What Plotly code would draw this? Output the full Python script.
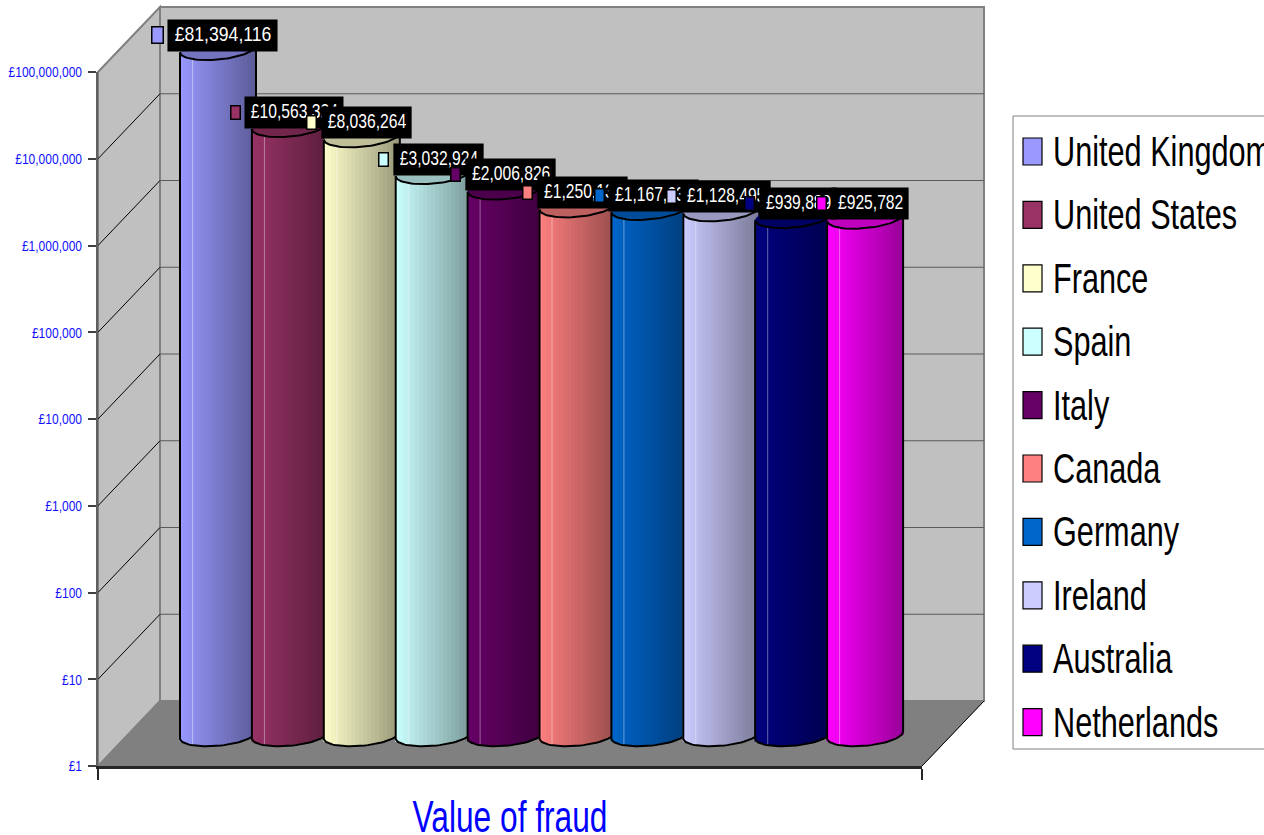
import json
import math
import plotly.graph_objects as go

# Card-fraud value by country, drawn as pseudo-3D cylinders on a log scale
countries = ["United Kingdom", "United States", "France", "Spain", "Italy",
             "Canada", "Germany", "Ireland", "Australia", "Netherlands"]
fraud_value = [81394116, 10563324, 8036264, 3032924, 2006826,
               1250133, 1167633, 1128495, 939889, 925782]
colours = ["#9999FF", "#993366", "#FFFFCC", "#CCFFFF", "#660066",
           "#FF8080", "#0066CC", "#CCCCFF", "#000080", "#FF00FF"]
tick_values = [1, 10, 100, 1000, 10000, 100000, 1000000, 10000000, 100000000]
tick_labels = ["£1", "£10", "£100", "£1,000", "£10,000", "£100,000",
               "£1,000,000", "£10,000,000", "£100,000,000"]
axis_title = "Value of fraud"

W, H = 1264, 835
FONT = "Liberation Sans, Arial, sans-serif"

# Projection of the chart box, in page pixels
DECADE = 86.75
FRONT_L, FRONT_R, FRONT_BOTTOM = 98, 922, 766
DEPTH_X, DEPTH_Y = 62, 65
BAR_BASE = 735
FIRST_CENTRE, STEP = 218, 71.9
CYL_A, CYL_B, CYL_TILT = 38, 10.8, 0.09
SLICES = 19


def fx(px):
    return px / W


def fy(py):
    return 1 - py / H


def path(points):
    return "M " + " L ".join(f"{fx(x):.5f},{fy(y):.5f}" for x, y in points) + " Z"


def shade(hex_colour, factor):
    rgb = [int(hex_colour[i:i + 2], 16) for i in (1, 3, 5)]
    return "rgb({:.0f},{:.0f},{:.0f})".format(*[c * factor for c in rgb])


def up(pixels):
    """Multiplier on a log axis equivalent to moving up by some pixels."""
    return 10 ** (pixels / DECADE)


def below_centre(dx):
    return CYL_B * math.sqrt(max(0.0, 1 - (dx / CYL_A) ** 2)) - CYL_TILT * dx


def arc(centre, value, start, stop, n=40):
    xs, ys = [], []
    for k in range(n + 1):
        a = math.radians(start + (stop - start) * k / n)
        dx = CYL_A * math.cos(a)
        xs.append(centre + dx / STEP)
        ys.append(value * up(CYL_B * math.sin(a) + CYL_TILT * dx))
    return xs, ys


x_low = (FRONT_L - FIRST_CENTRE) / STEP
x_high = (FRONT_R - FIRST_CENTRE) / STEP
cyl_domain = [fy(FRONT_BOTTOM), 1.0]
cyl_range = [(BAR_BASE - FRONT_BOTTOM) / DECADE, BAR_BASE / DECADE]

shapes = []
back_top = FRONT_BOTTOM - DEPTH_Y - 8 * DECADE
back_bottom = FRONT_BOTTOM - DEPTH_Y
back_l, back_r = FRONT_L + DEPTH_X, FRONT_R + DEPTH_X
wall_edge = "#808080"

# Back wall, side wall and floor
shapes.append(dict(type="path", xref="paper", yref="paper", layer="below",
                   path=path([(back_l, back_top), (back_r, back_top), (back_r, back_bottom), (back_l, back_bottom)]),
                   fillcolor="#C0C0C0", line=dict(color=wall_edge, width=2)))
shapes.append(dict(type="path", xref="paper", yref="paper", layer="below",
                   path=path([(FRONT_L, FRONT_BOTTOM - 8 * DECADE), (back_l, back_top),
                              (back_l, back_bottom), (FRONT_L, FRONT_BOTTOM)]),
                   fillcolor="#C0C0C0", line=dict(color=wall_edge, width=2)))
shapes.append(dict(type="path", xref="paper", yref="paper", layer="below",
                   path=path([(FRONT_L, FRONT_BOTTOM), (back_l, back_bottom), (back_r, back_bottom), (FRONT_R, FRONT_BOTTOM)]),
                   fillcolor="#808080", line=dict(color="#808080", width=1)))
shapes.append(dict(type="line", xref="paper", yref="paper", layer="below",
                   x0=fx(FRONT_R), y0=fy(FRONT_BOTTOM), x1=fx(back_r), y1=fy(back_bottom),
                   line=dict(color="#000000", width=1)))

# Grid lines running along the side wall and across the back wall
for k in range(1, 8):
    front_y = FRONT_BOTTOM - k * DECADE
    wall_y = front_y - DEPTH_Y
    shapes.append(dict(type="line", xref="paper", yref="paper", layer="below",
                       x0=fx(FRONT_L), y0=fy(front_y), x1=fx(back_l), y1=fy(wall_y),
                       line=dict(color="#000000", width=1)))
    shapes.append(dict(type="line", xref="paper", yref="paper", layer="below",
                       x0=fx(back_l), y0=fy(wall_y), x1=fx(back_r), y1=fy(wall_y),
                       line=dict(color="#5A5A5A", width=1)))

fig = go.Figure()

# Empty trace so the visible axes own a subplot
fig.add_trace(go.Scatter(x=[None], y=[None], xaxis="x", yaxis="y", showlegend=False, hoverinfo="skip"))

annotations = []
layout_axes = {}
text_tweaks = {}   # per-text condensing and placement, since no narrow face is installed

for i, (name, value, colour) in enumerate(zip(countries, fraud_value, colours)):
    axis_id = f"y{i + 2}"
    layout_axes[f"yaxis{i + 2}"] = dict(type="log", domain=cyl_domain, range=cyl_range, anchor="x",
                                        visible=False, fixedrange=True)
    centre = float(i)

    # Vertical slices give the cylinder its left-to-right shading
    xs, bases, heights, fills = [], [], [], []
    for s in range(SLICES):
        t = (s + 0.5) / SLICES
        dx = (t - 0.5) * 2 * CYL_A
        base = 10 ** (-below_centre(dx) / DECADE)
        top = value * up(CYL_TILT * dx)
        xs.append(centre + dx / STEP)
        bases.append(base)
        heights.append(top - base)
        fills.append(shade(colour, 1.0 - 0.4 * t))
    fig.add_trace(go.Bar(x=xs, y=heights, base=bases, width=(2 * CYL_A / SLICES + 1.2) / STEP,
                         marker=dict(color=fills, line=dict(width=0)),
                         xaxis="x", yaxis=axis_id, name=name, showlegend=False, hoverinfo="skip"))

    # Thin highlight down the body of the cylinder
    hl_dx = -25.5
    fig.add_trace(go.Scatter(x=[centre + hl_dx / STEP] * 2,
                             y=[10 ** (-below_centre(hl_dx) / DECADE), value * up(CYL_TILT * hl_dx)],
                             mode="lines", line=dict(color="rgba(255,255,255,0.4)", width=1),
                             xaxis="x", yaxis=axis_id, showlegend=False, hoverinfo="skip", cliponaxis=False))

    # Dark opening on top of the cylinder
    ex, ey = arc(centre, value, 0, 360)
    fig.add_trace(go.Scatter(x=ex, y=ey, mode="lines", fill="toself", fillcolor=shade(colour, 0.75),
                             line=dict(width=0), xaxis="x", yaxis=axis_id, showlegend=False,
                             hoverinfo="skip", cliponaxis=False))

    # Outline: rim, one side, base arc, other side
    tx, ty = arc(centre, value, 180, 360)
    bx, by = arc(centre, 1, 360, 180)
    fig.add_trace(go.Scatter(x=tx + bx + tx[:1], y=ty + by + ty[:1], mode="lines",
                             line=dict(color="#000000", width=2),
                             xaxis="x", yaxis=axis_id, showlegend=False, hoverinfo="skip", cliponaxis=False))

# Value labels come after all cylinders; each key sits on top of the previous label
LABEL_SIZE = 21
for i, (value, colour) in enumerate(zip(fraud_value, colours)):
    text = f"£{value:,}"
    digits = sum(c != "," for c in text)
    scale = 0.84 if i == 0 else 0.745
    text_w = (digits * 0.556 + text.count(",") * 0.278) * scale * LABEL_SIZE
    box_w = text_w + 12
    text_tweaks[text] = dict(scale=scale, plate=box_w, lift=2)
    log_v = math.log10(value)
    key_w, key_h = (10, 15) if i == 0 else (8, 12)
    annotations.append(dict(xref="x", yref=f"y{i + 2}", x=float(i), y=log_v, text=text, showarrow=False,
                            xshift=5, yshift=13.5, width=box_w + 40, height=29, bgcolor="rgba(0,0,0,0)",
                            font=dict(family=FONT, size=LABEL_SIZE, color="#FFFFFF")))
    annotations.append(dict(xref="x", yref=f"y{i + 2}", x=float(i), y=log_v, text=" ", showarrow=False,
                            xshift=5 - box_w / 2 - 10, yshift=13.5, width=key_w, height=key_h, bgcolor=colour,
                            bordercolor="#000000", borderwidth=1.5, borderpad=0,
                            font=dict(size=1)))

# Legend panel, clipped by the right edge of the page
LEG_L, LEG_T, LEG_B = 1013, 116, 749
shapes.append(dict(type="rect", xref="paper", yref="paper", layer="above",
                   x0=fx(LEG_L), x1=fx(W + 10), y0=fy(LEG_T), y1=fy(LEG_B),
                   fillcolor="#FFFFFF", line=dict(color="#808080", width=1)))
for i, (name, colour) in enumerate(zip(countries, colours)):
    row_y = 151.5 + i * 63.4
    shapes.append(dict(type="rect", xref="paper", yref="paper", layer="above",
                       x0=fx(1023), x1=fx(1042), y0=fy(row_y - 13.5), y1=fy(row_y + 13.5),
                       fillcolor=colour, line=dict(color="#000000", width=1.2)))
    annotations.append(dict(xref="paper", yref="paper", x=fx(1052), y=fy(row_y), xanchor="left", yanchor="middle",
                            text=name, showarrow=False, borderpad=0,
                            font=dict(family=FONT, size=42, color="#000000")))
    text_tweaks[name] = dict(scale=0.73, start=True)

for label in tick_labels:
    text_tweaks[label] = dict(scale=0.8)
text_tweaks[axis_title] = dict(scale=0.72, lift=-6)

fig.update_layout(
    width=W, height=H, margin=dict(l=0, r=0, t=0, b=0, autoexpand=False),
    paper_bgcolor="#FFFFFF", plot_bgcolor="rgba(0,0,0,0)",
    barmode="overlay", showlegend=False, shapes=shapes, annotations=annotations,
    xaxis=dict(domain=[fx(FRONT_L), fx(FRONT_R)], range=[x_low, x_high], anchor="y", showgrid=False, zeroline=False,
               showline=True, linecolor="#262626", linewidth=2.5,
               tickmode="array", tickvals=[x_low, x_high], ticktext=["", ""],
               ticks="outside", ticklen=11, tickcolor="#262626", tickwidth=1.5,
               title=dict(text=axis_title, font=dict(family=FONT, size=44, color="#0000FF"), standoff=24),
               fixedrange=True),
    yaxis=dict(type="log", domain=[fy(FRONT_BOTTOM), fy(FRONT_BOTTOM - 8 * DECADE)], range=[0, 8], anchor="x",
               showgrid=False, zeroline=False, showline=True, linecolor="#606060", linewidth=2,
               tickmode="array", tickvals=tick_values, ticktext=tick_labels,
               ticks="outside", ticklen=8, tickcolor="#404040", tickwidth=1.5,
               ticklabelstandoff=3, tickfont=dict(family=FONT, size=15, color="#1010FF"),
               fixedrange=True),
    **layout_axes,
)

# Condense the rendered text and put black plates behind the value labels
post_script = """
var tweaks = %s;
document.querySelectorAll('.main-svg text, .infolayer text').forEach(function (el) {
  var t = tweaks[el.textContent];
  if (!t) return;
  var w = el.getComputedTextLength();
  el.setAttribute('lengthAdjust', 'spacingAndGlyphs');
  el.setAttribute('textLength', (w * t.scale).toFixed(2));
  if (t.start) el.setAttribute('x', parseFloat(el.getAttribute('x')) - w * (1 - t.scale) / 2);
  if (t.lift) el.setAttribute('y', parseFloat(el.getAttribute('y')) - t.lift);
  if (t.plate) {
    var group = el.closest('.annotation-text-g');
    var bg = group ? group.querySelector('rect.bg') : null;
    if (bg) {
      var r = parseFloat(bg.getAttribute('width'));
      bg.setAttribute('x', (r - t.plate) / 2);
      bg.setAttribute('width', t.plate);
      bg.style.fill = '#000000';
      bg.style.fillOpacity = 1;
    }
  }
});
""" % json.dumps(text_tweaks, ensure_ascii=False)

fig.write_html("out.html", config={"displayModeBar": False}, post_script=post_script)
